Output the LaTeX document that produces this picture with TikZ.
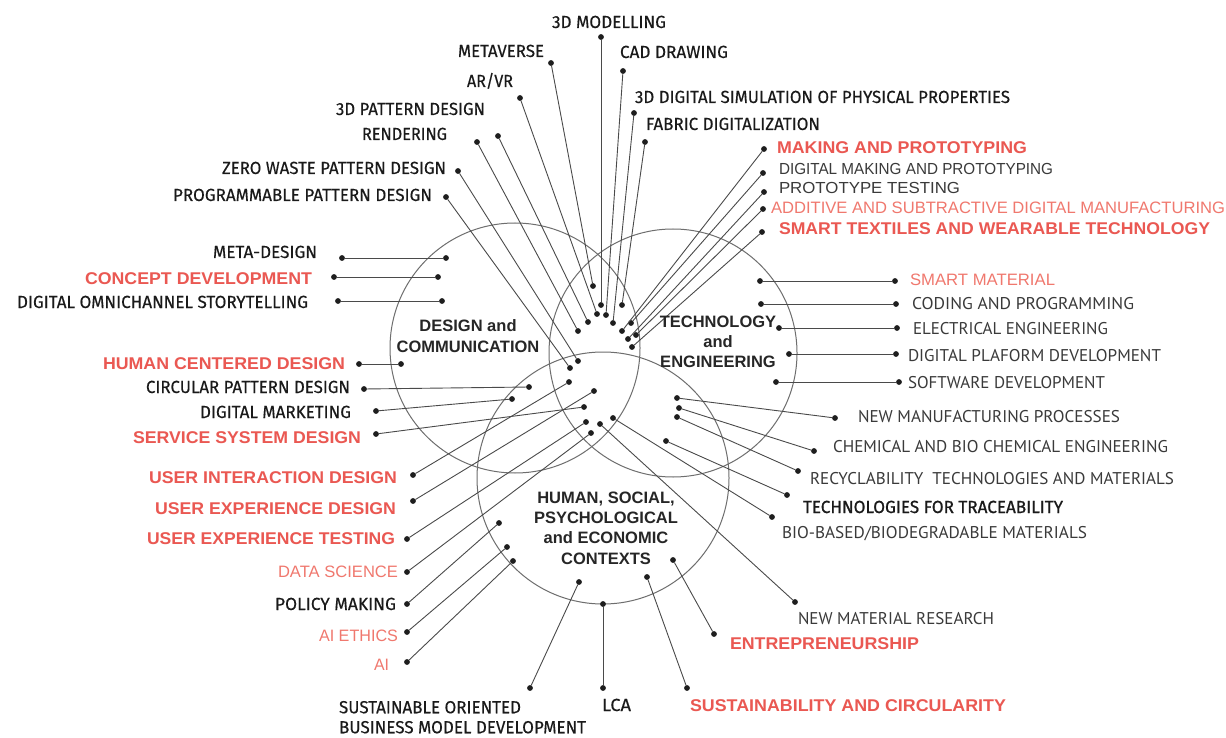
\documentclass[tikz,border=0pt]{standalone}
\usepackage{fontspec}
\usepackage{graphicx}
\setmainfont{Liberation Sans}
\newfontfamily\humanist[FakeBold=0.35]{Fira Sans}
\newfontfamily\humanistheavy[FakeBold=0.9]{Fira Sans}
\newfontfamily\humanistlight{PT Sans}
\newfontfamily\grotesk{Liberation Sans}

\definecolor{inkblack}{HTML}{1A1A1A}
\definecolor{inkgray}{HTML}{3A3A3A}
\definecolor{redstrong}{HTML}{EA5852}
\definecolor{redlight}{HTML}{F0786E}
\definecolor{hubcol}{HTML}{262626}
\definecolor{linecol}{HTML}{4A4A4A}
\definecolor{ringcol}{HTML}{6E6E6E}
\definecolor{dotcol}{HTML}{1E1E1E}

% set a label to a fixed width, keeping its natural height
\newcommand\fitw[2]{\resizebox{#1pt}{\height}{#2}}

\tikzset{
  every node/.style={inner sep=0pt, outer sep=0pt},
  dot/.style={circle, fill=dotcol, minimum size=5.8pt, inner sep=0pt},
  link/.style={draw=linecol, line width=0.9pt},
  ring/.style={draw=ringcol, line width=1pt},
  lblack/.style={anchor=base west, text=inkblack, font=\humanist\fontsize{17.5}{17.5}\selectfont},
  lheavy/.style={anchor=base west, text=inkblack, font=\humanistheavy\fontsize{17.5}{17.5}\selectfont},
  lgray/.style={anchor=base west, text=inkgray, font=\humanistlight\fontsize{17}{17}\selectfont},
  lred/.style={anchor=base west, text=redstrong, font=\grotesk\bfseries\fontsize{17}{17}\selectfont},
  llight/.style={anchor=base west, text=redlight, font=\grotesk\fontsize{16.5}{16.5}\selectfont},
  lplain/.style={anchor=base west, text=inkgray, font=\grotesk\fontsize{16}{16}\selectfont},
  hub/.style={anchor=north, text=hubcol, align=center, font=\grotesk\bfseries\fontsize{16.5}{20.2}\selectfont},
}

\begin{document}
\begin{tikzpicture}[x=1pt, y=-1pt]
\useasboundingbox[fill=white] (0,0) rectangle (1226,738);

% the three overlapping fields
\draw[ring] (515,348) circle[radius=125];
\draw[ring] (673,353) circle[radius=124];
\draw[ring] (603,478) circle[radius=126];

% end points of every connector: -o outside, -i inside the fields
\foreach \n/\x/\y in {
  model-o/601/37, model-i/601/305,
  meta-o/551/63, meta-i/593/286,
  cad-o/623/71, cad-i/606/315,
  arvr-o/520/98, arvr-i/597/314,
  sim-o/634/113, sim-i/613/323,
  fabric-o/645/142, fabric-i/622/305,
  pat-o/498/136, pat-i/588/322,
  rend-o/477/142, rend-i/578/331,
  zero-o/458/171, zero-i/578/361,
  prog-o/446/197, prog-i/570/368,
  making-o/764/149, making-i/622/331,
  dmaking-o/763/173, dmaking-i/631/323,
  ptest-o/764/192, ptest-i/628/339,
  add-o/763/209, add-i/636/335,
  smartt-o/762/232, smartt-i/632/347,
  smartm-o/895/281, smartm-i/760/281,
  coding-o/896/304, coding-i/761/304,
  elec-o/897/328, elec-i/779/328,
  dplat-o/896/354, dplat-i/789/354,
  soft-o/899/382, soft-i/776/382,
  newman-o/835/418, newman-i/677/398,
  chem-o/814/451, chem-i/679/408,
  recy-o/798/471, recy-i/677/417,
  trace-o/787/495, trace-i/666/441,
  bio-o/772/517, bio-i/613/418,
  newmat-o/795/602, newmat-i/600/424,
  entre-o/714/634, entre-i/673/560,
  sustc-o/687/688, sustc-i/647/577,
  lca-o/603/688, lca-i/603/604,
  sobm-o/530/688, sobm-i/579/582,
  metad-o/342/258, metad-i/446/258,
  concept-o/334/277, concept-i/438/277,
  omni-o/338/301, omni-i/442/301,
  hcd-o/359/364, hcd-i/401/364,
  circ-o/364/389, circ-i/529/387,
  dmkt-o/376/411, dmkt-i/512/399,
  ssd-o/376/434, ssd-i/584/407,
  uid-o/413/475, uid-i/569/382,
  uxd-o/413/501, uxd-i/594/391,
  uxt-o/407/539, uxt-i/586/422,
  data-o/407/572, data-i/591/433,
  policy-o/407/604, policy-i/499/523,
  aieth-o/407/632, aieth-i/507/547,
  ai-o/407/662, ai-i/513/561}
  \node[dot] (\n) at (\x,\y) {};

\foreach \a in {model, meta, cad, arvr, sim, fabric, pat, rend, zero, prog,
  making, dmaking, ptest, add, smartt, smartm, coding, elec, dplat, soft,
  newman, chem, recy, trace, bio, newmat, entre, sustc, lca, sobm,
  metad, concept, omni, hcd, circ, dmkt, ssd, uid, uxd, uxt, data,
  policy, aieth, ai}
  \draw[link] (\a-o) -- (\a-i);

% field titles
\node[hub] (t-dc) at (468,320) {DESIGN and\\COMMUNICATION};
\node[hub] (t-te) at (718,316) {TECHNOLOGY\\and\\ENGINEERING};
\node[hub] (t-hu) at (606,492) {HUMAN, SOCIAL,\\PSYCHOLOGICAL\\and ECONOMIC\\CONTEXTS};

% labels above
\node[lblack] (l-model) at (552,28) {\fitw{114}{3D MODELLING}};
\node[lblack] (l-meta) at (458,57) {\fitw{86}{METAVERSE}};
\node[lblack] (l-cad) at (620,58) {\fitw{108}{CAD DRAWING}};
\node[lblack] (l-arvr) at (467,87) {\fitw{46}{AR/VR}};
\node[lblack] (l-sim) at (635,103) {\fitw{375}{3D DIGITAL SIMULATION OF PHYSICAL PROPERTIES}};
\node[lblack] (l-pat) at (336,115) {\fitw{149}{3D PATTERN DESIGN}};
\node[lblack] (l-fabric) at (646,130) {\fitw{174}{FABRIC DIGITALIZATION}};
\node[lblack] (l-rend) at (362,140) {\fitw{85}{RENDERING}};
\node[lblack] (l-zero) at (222,174) {\fitw{224}{ZERO WASTE PATTERN DESIGN}};
\node[lblack] (l-prog) at (173,201) {\fitw{259}{PROGRAMMABLE PATTERN DESIGN}};

% labels upper right
\node[lred] (l-making) at (777,154) {\fitw{250}{MAKING AND PROTOTYPING}};
\node[lplain] (l-dmaking) at (779,175) {\fitw{274}{DIGITAL MAKING AND PROTOTYPING}};
\node[lplain] (l-ptest) at (779,194) {\fitw{181}{PROTOTYPE TESTING}};
\node[llight] (l-add) at (771,214) {\fitw{454}{ADDITIVE AND SUBTRACTIVE DIGITAL MANUFACTURING}};
\node[lred] (l-smartt) at (779,235) {\fitw{431}{SMART TEXTILES AND WEARABLE TECHNOLOGY}};

% labels right
\node[llight] (l-smartm) at (910,285) {\fitw{145}{SMART MATERIAL}};
\node[lgray] (l-coding) at (912,309) {\fitw{222}{CODING AND PROGRAMMING}};
\node[lgray] (l-elec) at (913,334) {\fitw{195}{ELECTRICAL ENGINEERING}};
\node[lgray] (l-dplat) at (908,361) {\fitw{253}{DIGITAL PLAFORM DEVELOPMENT}};
\node[lgray] (l-soft) at (908,388) {\fitw{197}{SOFTWARE DEVELOPMENT}};
\node[lgray] (l-newman) at (858,422) {\fitw{262}{NEW MANUFACTURING PROCESSES}};
\node[lgray] (l-chem) at (833,452) {\fitw{335}{CHEMICAL AND BIO CHEMICAL ENGINEERING}};
\node[lgray] (l-recy) at (810,484) {\fitw{364}{RECYCLABILITY\ \ TECHNOLOGIES AND MATERIALS}};
\node[lheavy] (l-trace) at (803,513) {\fitw{260}{TECHNOLOGIES FOR TRACEABILITY}};
\node[lgray] (l-bio) at (782,538) {\fitw{305}{BIO-BASED/BIODEGRADABLE MATERIALS}};
\node[lgray] (l-newmat) at (798,624) {\fitw{196}{NEW MATERIAL RESEARCH}};
\node[lred] (l-entre) at (730,649) {\fitw{189}{ENTREPRENEURSHIP}};

% labels below
\node[lred] (l-sustc) at (690,711) {\fitw{316}{SUSTAINABILITY AND CIRCULARITY}};
\node[lblack] (l-lca) at (602,711) {\fitw{29}{LCA}};
\node[lblack, anchor=north west, align=left, font=\humanist\fontsize{17.5}{20}\selectfont]
  (l-sobm) at (339,701) {\fitw{182}{SUSTAINABLE ORIENTED}\\\fitw{247}{BUSINESS MODEL DEVELOPMENT}};

% labels left
\node[lblack] (l-metad) at (213,258) {\fitw{104}{META-DESIGN}};
\node[lred] (l-concept) at (85,284) {\fitw{227}{CONCEPT DEVELOPMENT}};
\node[lblack] (l-omni) at (17,308) {\fitw{291}{DIGITAL OMNICHANNEL STORYTELLING}};
\node[lred] (l-hcd) at (103,369) {\fitw{242}{HUMAN CENTERED DESIGN}};
\node[lblack] (l-circ) at (146,393) {\fitw{204}{CIRCULAR PATTERN DESIGN}};
\node[lblack] (l-dmkt) at (200,418) {\fitw{151}{DIGITAL MARKETING}};
\node[lred] (l-ssd) at (133,443) {\fitw{228}{SERVICE SYSTEM DESIGN}};
\node[lred] (l-uid) at (149,483) {\fitw{248}{USER INTERACTION DESIGN}};
\node[lred] (l-uxd) at (155,514) {\fitw{241}{USER EXPERIENCE DESIGN}};
\node[lred] (l-uxt) at (147,544) {\fitw{248}{USER EXPERIENCE TESTING}};
\node[llight] (l-data) at (278,577) {\fitw{120}{DATA SCIENCE}};
\node[lblack] (l-policy) at (275,610) {\fitw{121}{POLICY MAKING}};
\node[llight] (l-aieth) at (319,641) {\fitw{79}{AI ETHICS}};
\node[llight] (l-ai) at (374,670) {\fitw{15}{AI}};
\end{tikzpicture}
\end{document}
